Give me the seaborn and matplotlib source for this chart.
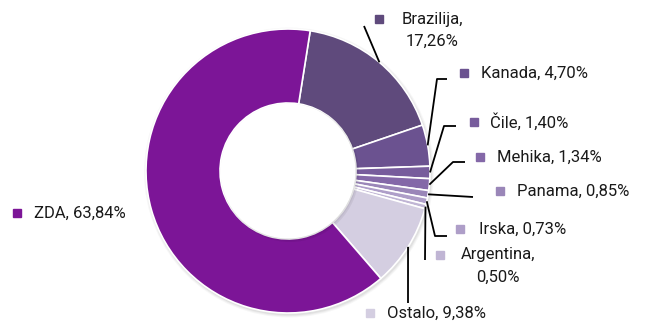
import matplotlib
matplotlib.use("Agg")
import matplotlib.pyplot as plt
import seaborn as sns
import numpy as np
from matplotlib.patches import Circle

sns.set_theme(style="white")
plt.rcParams["font.family"] = ["Roboto", "DejaVu Sans"]

# Export shares by country, clockwise from the top
countries = ["Brazilija", "Kanada", "Čile", "Mehika", "Panama", "Irska", "Argentina", "Ostalo", "ZDA"]
shares = [17.26, 4.70, 1.40, 1.34, 0.85, 0.73, 0.50, 9.38, 63.84]
colors = ["#5f4a7c", "#6b5290", "#775c9c", "#8468a8", "#9a86b8", "#ae9ec8", "#c0b5d4", "#d4cee1", "#7c1597"]

W, H = 646, 322
fig = plt.figure(figsize=(W / 100, H / 100), dpi=100)
ax = fig.add_axes([0, 0, 1, 1])
ax.set_xlim(0, W)
ax.set_ylim(0, H)
ax.set_aspect("equal")
ax.axis("off")

cx, cy = 288, H - 171
R, r = 142, 68
first_angle = 9  # degrees clockwise from 12 o'clock

# soft outer shadow
for k, a in enumerate([0.05, 0.04, 0.03]):
    ax.add_patch(Circle((cx + 1, cy - 1.5), R + 1 + k, color="black", alpha=a, lw=0, zorder=0))

wedges, _ = ax.pie(shares, colors=colors, radius=R, center=(cx, cy),
                   startangle=90 - first_angle, counterclock=False,
                   wedgeprops=dict(width=R - r, edgecolor="white", linewidth=1.2),
                   frame=True)
ax.set_xlim(0, W)
ax.set_ylim(0, H)
ax.axis("off")

# inner shadow of the hole
for k, a in enumerate([0.06, 0.045, 0.03]):
    ax.add_patch(Circle((cx + 2 - k * 0.5, cy - 2 + k * 0.5), r + 1 - k, color="black", alpha=a, lw=0, zorder=3))
ax.add_patch(Circle((cx, cy), r - 0.5, color="white", lw=0, zorder=4))

# mid-angle anchor on the outer edge of each wedge
total = sum(shares)
cum = first_angle
anchors = {}
for name, v in zip(countries, shares):
    span = v / total * 360
    mid = np.deg2rad(cum + span / 2)
    anchors[name] = (cx + R * np.sin(mid), cy + R * np.cos(mid))
    cum += span

def py(y):
    return H - y

# leader line bend points (pixel layout)
leaders = {
    "Brazilija": [(364, 26)],
    "Kanada": [(437, 79), (447, 79)],
    "Čile": [(444, 126), (456, 126)],
    "Mehika": [(453, 162), (465, 162)],
    "Panama": [(473, 197)],
    "Irska": [(435, 236), (447, 236)],
    "Argentina": [(425, 260)],
    "Ostalo": [(408, 303)],
}
for name, pts in leaders.items():
    ax0, ay0 = anchors[name]
    xs = [ax0] + [p[0] for p in pts]
    ys = [ay0] + [py(p[1]) for p in pts]
    ax.plot(xs, ys, color="black", lw=1.3, zorder=5, solid_capstyle="butt")

def fmt(v):
    return f"{v:.2f}".replace(".", ",") + "%"

# label layout: marker x, marker y, text x, alignment, two-line flag
layout = {
    "Brazilija": (379, 19, 432, "center", True),
    "Kanada": (464, 73, 481, "left", False),
    "Čile": (474, 122, 490, "left", False),
    "Mehika": (480, 157, 497, "left", False),
    "Panama": (500, 191, 517, "left", False),
    "Irska": (460, 229, 479, "left", False),
    "Argentina": (440, 255, 498, "center", True),
    "Ostalo": (370, 313, 387, "left", False),
    "ZDA": (17, 213, 34, "left", False),
}
fs = 12
for name, v, c in zip(countries, shares, colors):
    mx, my, tx, ha, two = layout[name]
    ax.plot(mx, py(my), marker="s", ms=5.2, color=c, mec=c, zorder=6)
    if two:
        ax.text(tx, py(my), name + ",", ha="center", va="center", fontsize=fs, color="#1a1a1a")
        ax.text(tx, py(my + 22), fmt(v), ha="center", va="center", fontsize=fs, color="#1a1a1a")
    else:
        ax.text(tx, py(my), f"{name}, {fmt(v)}", ha="left", va="center", fontsize=fs, color="#1a1a1a")

fig.savefig("out.png", dpi=100)
